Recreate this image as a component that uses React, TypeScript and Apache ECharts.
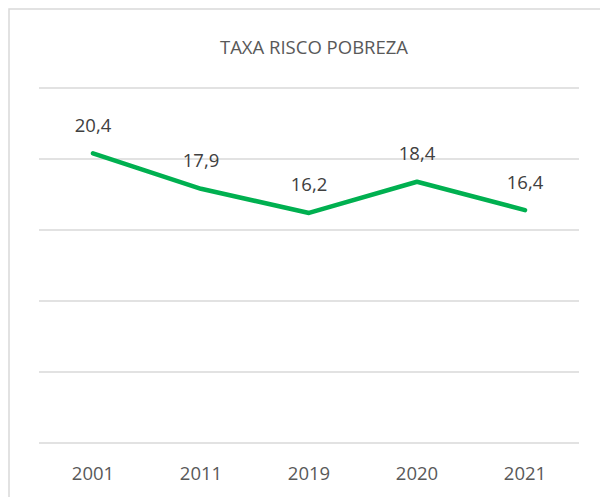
import React, { useEffect, useRef } from "react";
import * as echarts from "echarts";

const categories = ["2001", "2011", "2019", "2020", "2021"];
const values = [20.4, 17.9, 16.2, 18.4, 16.4];
const titleText = "TAXA RISCO POBREZA";

export default function App() {
  const ref = useRef<HTMLDivElement>(null);
  useEffect(() => {
    if (!ref.current) return;
    const chart = echarts.init(ref.current, undefined, { renderer: "svg" });
    chart.setOption({
      animation: false,
      backgroundColor: "#ffffff",
      title: {
        text: titleText,
        left: 309,
        textAlign: "center",
        top: 32,
        textStyle: {
          fontFamily: "Open Sans",
          fontSize: 18.5,
          fontWeight: "normal",
          color: "#595959",
        },
      },
      graphic: [
        {
          type: "rect",
          shape: { x: 9, y: 9, width: 640, height: 540 },
          style: { fill: "none", stroke: "#d9d9d9", lineWidth: 1.5 },
          silent: true,
        },
      ],
      grid: { left: 39, right: 21, top: 88, bottom: 54 },
      xAxis: {
        type: "category",
        data: categories,
        boundaryGap: true,
        axisLine: { show: false },
        axisTick: { show: false },
        axisLabel: {
          margin: 20,
          fontFamily: "Open Sans",
          fontSize: 18.5,
          color: "#595959",
        },
      },
      yAxis: {
        type: "value",
        min: 0,
        max: 25,
        interval: 5,
        axisLabel: { show: false },
        axisLine: { show: false },
        axisTick: { show: false },
        splitLine: { lineStyle: { color: "#d9d9d9", width: 1.5 } },
      },
      series: [
        {
          type: "line",
          data: values,
          symbol: "circle",
          symbolSize: 1,
          showSymbol: true,
          itemStyle: { color: "rgba(0,0,0,0)", borderWidth: 0 },
          lineStyle: { color: "#00b050", width: 4.5, cap: "round", join: "round" },
          label: {
            show: true,
            position: "top",
            distance: 19,
            fontFamily: "Open Sans",
            fontSize: 18.5,
            color: "#404040",
            formatter: (p: any) => String(p.value).replace(".", ","),
          },
        },
      ],
    });
    return () => chart.dispose();
  }, []);
  return (
    <div
      ref={ref}
      style={{ position: "fixed", left: 0, top: 0, width: 600, height: 497 }}
    />
  );
}
